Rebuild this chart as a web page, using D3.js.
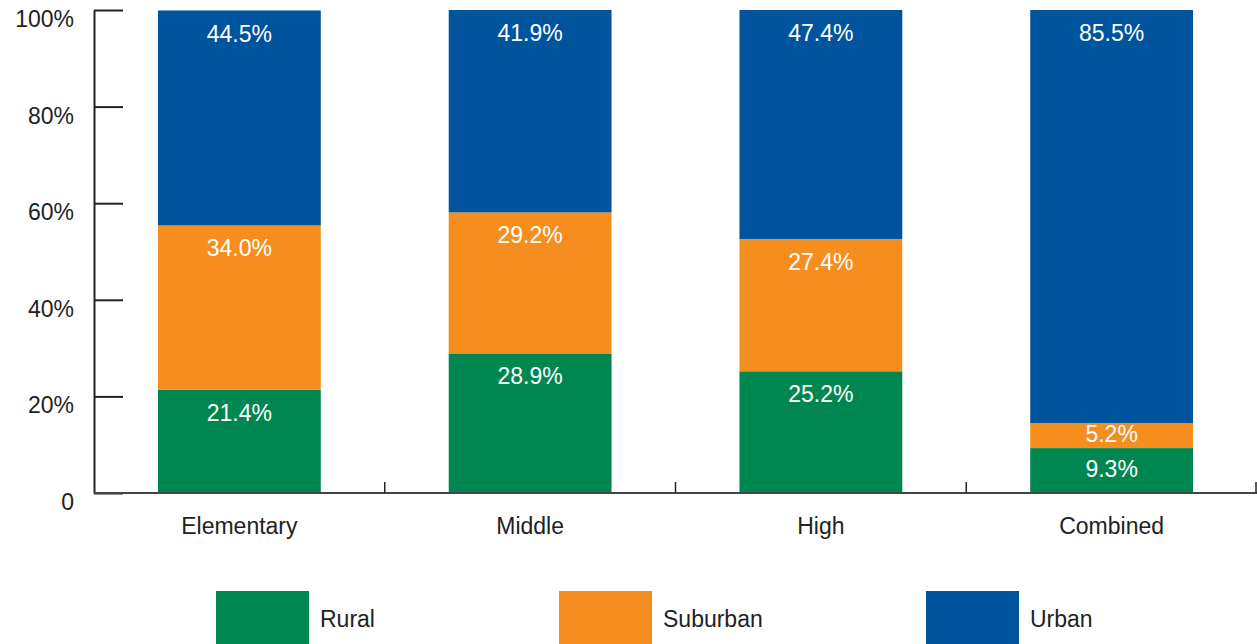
<!DOCTYPE html>
<html><head><meta charset="utf-8">
<script src="https://cdn.jsdelivr.net/npm/d3@7"></script>
<style>
html,body{margin:0;padding:0;background:#fff;}
text{font-family:"Liberation Sans",Arial,sans-serif;}
</style></head>
<body><svg id="c" width="1257" height="644"></svg>
<script>
const categories = ["Elementary","Middle","High","Combined"];
const seriesNames = ["Rural","Suburban","Urban"];
const rural = [21.4, 28.9, 25.2, 9.3];
const suburban = [34.0, 29.2, 27.4, 5.2];
const urban = [44.5, 41.9, 47.4, 85.5];
const yTicks = [0,20,40,60,80,100];
const colors = ["#008751","#F68E1F","#00539D"];

const svg = d3.select("#c");
const x = d3.scaleBand().domain(categories).range([94,1257]).paddingInner(0.44).paddingOuter(0.22);
const y = d3.scaleLinear().domain([0,100]).range([493,10]);

const rows = categories.map((c,i)=>({cat:c, Rural:rural[i], Suburban:suburban[i], Urban:urban[i]}));
const stacked = d3.stack().keys(seriesNames)(rows);

stacked.forEach((layer,li)=>{
  const g = svg.append("g");
  g.selectAll("rect").data(layer).join("rect")
    .attr("x",d=>x(d.data.cat))
    .attr("width",x.bandwidth())
    .attr("y",d=>y(Math.min(d[1],100)))
    .attr("height",d=>y(d[0])-y(Math.min(d[1],100)))
    .attr("fill",colors[li]);
});
stacked.forEach((layer,li)=>{
  svg.append("g").selectAll("text").data(layer).join("text")
    .attr("x",d=>x(d.data.cat)+x.bandwidth()/2)
    .attr("y",d=>{const top=y(Math.min(d[1],100)), h=y(d[0])-top; return top+Math.min(23,h/2-2);})
    .attr("dy","0.35em")
    .attr("text-anchor","middle")
    .attr("fill","#fff")
    .attr("font-size","23px")
    .text(d=>(d.data[seriesNames[li]]).toFixed(1)+"%");
});

// y axis
const ya = svg.append("g").attr("transform","translate(94,0)")
  .call(d3.axisLeft(y).tickValues(yTicks).tickSizeInner(-29).tickSizeOuter(0).tickPadding(20)
    .tickFormat(d=>d===0?"0":d+"%"));
ya.select(".domain").attr("stroke","#222").attr("stroke-width",2);
ya.selectAll(".tick line").attr("stroke","#222").attr("stroke-width",2);
ya.selectAll(".tick text").attr("font-size","23px").attr("fill","#222").attr("dy","0.72em")
  .attr("font-family","Liberation Sans, Arial, sans-serif");

// x axis
const step = x.step();
const xa = svg.append("g").attr("transform","translate(0,493)");
xa.append("line").attr("x1",94).attr("x2",1257).attr("y1",0).attr("y2",0).attr("stroke","#444").attr("stroke-width",2);
xa.selectAll("line.t").data(categories).join("line").attr("class","t")
  .attr("x1",(d,i)=>Math.min(94+(i+1)*step,1256)).attr("x2",(d,i)=>Math.min(94+(i+1)*step,1256))
  .attr("y1",0).attr("y2",-11).attr("stroke","#222").attr("stroke-width",1.5);
xa.selectAll("text").data(categories).join("text")
  .attr("x",d=>x(d)+x.bandwidth()/2).attr("y",33).attr("dy","0.35em")
  .attr("text-anchor","middle").attr("font-size","23px").attr("fill","#222").text(d=>d);

// legend
const legX = [216,559,926];
const lg = svg.append("g");
seriesNames.forEach((s,i)=>{
  lg.append("rect").attr("x",legX[i]).attr("y",591).attr("width",93).attr("height",60).attr("fill",colors[i]);
  lg.append("text").attr("x",legX[i]+104).attr("y",619).attr("dy","0.35em")
    .attr("font-size","23px").attr("fill","#222").text(s);
});
</script></body></html>
